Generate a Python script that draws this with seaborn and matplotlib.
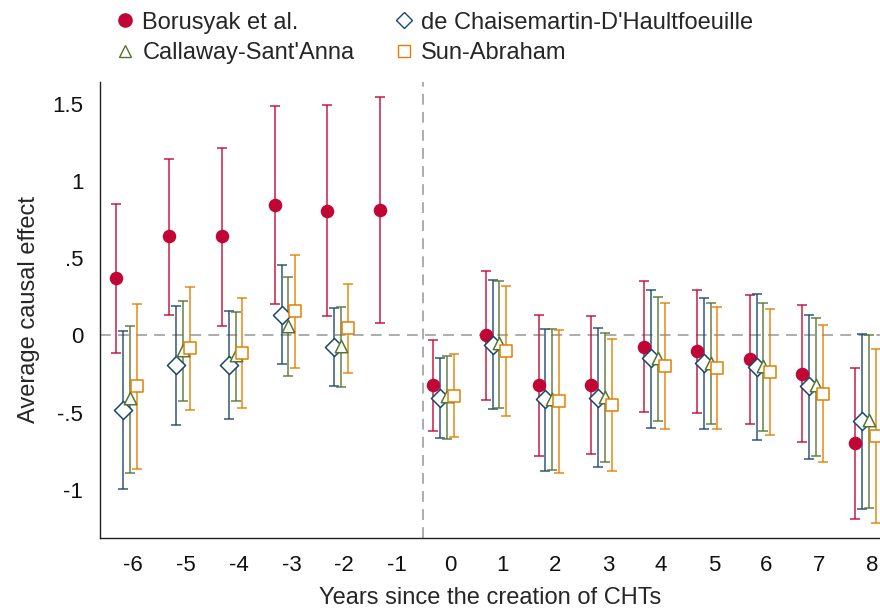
import matplotlib
matplotlib.use("Agg")
import matplotlib.pyplot as plt
from matplotlib.lines import Line2D
import numpy as np
import seaborn as sns

# event time (years relative to CHT creation)
periods = [-6, -5, -4, -3, -2, -1, 0, 1, 2, 3, 4, 5, 6, 7, 8]
nan = np.nan

bjs_est = [0.37, 0.64, 0.64, 0.845, 0.806, 0.813, -0.323, 0.0, -0.323, -0.323, -0.073, -0.103, -0.155, -0.247, -0.697]
bjs_lo = [-0.116, 0.129, 0.06, 0.204, 0.123, 0.082, -0.619, -0.42, -0.779, -0.768, -0.497, -0.501, -0.572, -0.692, -1.187]
bjs_hi = [0.853, 1.144, 1.215, 1.486, 1.49, 1.544, -0.03, 0.415, 0.135, 0.125, 0.355, 0.297, 0.26, 0.2, -0.208]

dcdh_est = [-0.484, -0.194, -0.194, 0.133, -0.073, nan, -0.402, -0.065, -0.413, -0.402, -0.146, -0.181, -0.202, -0.327, -0.555]
dcdh_lo = [-0.995, -0.58, -0.54, -0.185, -0.327, nan, -0.665, -0.477, -0.875, -0.85, -0.596, -0.606, -0.675, -0.8, -1.12]
dcdh_hi = [0.028, 0.19, 0.157, 0.456, 0.179, nan, -0.144, 0.361, 0.043, 0.045, 0.292, 0.241, 0.266, 0.131, 0.011]

cs_est = [-0.405, -0.095, -0.127, 0.06, -0.069, nan, -0.39, -0.05, -0.413, -0.398, -0.144, -0.18, -0.198, -0.323, -0.55]
cs_lo = [-0.89, -0.424, -0.424, -0.262, -0.335, nan, -0.673, -0.471, -0.87, -0.821, -0.555, -0.574, -0.617, -0.781, -1.114]
cs_hi = [0.06, 0.224, 0.15, 0.376, 0.187, nan, -0.133, 0.355, 0.04, 0.017, 0.25, 0.211, 0.211, 0.114, 0.005]

sa_est = [-0.33, -0.082, -0.114, 0.155, 0.045, nan, -0.39, -0.101, -0.426, -0.452, -0.198, -0.211, -0.237, -0.376, -0.652]
sa_lo = [-0.865, -0.48, -0.47, -0.211, -0.243, nan, -0.66, -0.52, -0.892, -0.875, -0.608, -0.606, -0.645, -0.821, -1.213]
sa_hi = [0.205, 0.314, 0.239, 0.518, 0.333, nan, -0.123, 0.323, 0.034, -0.026, 0.211, 0.185, 0.172, 0.065, -0.086]

ytick_vals = [-1, -0.5, 0, 0.5, 1, 1.5]
ytick_labels = ["-1", "-.5", "0", ".5", "1", "1.5"]

sns.set_style("white")
plt.rcParams["font.family"] = ["Liberation Sans", "DejaVu Sans"]

# name, est, lo, hi, offset, colour, marker, size, filled
series = [
    ("Borusyak et al.", bjs_est, bjs_lo, bjs_hi, -0.32, "#c10534", "o", 95, True),
    ("de Chaisemartin-D'Haultfoeuille", dcdh_est, dcdh_lo, dcdh_hi, -0.19, "#1a476f", "D", 85, False),
    ("Callaway-Sant'Anna", cs_est, cs_lo, cs_hi, -0.06, "#55752f", "^", 80, False),
    ("Sun-Abraham", sa_est, sa_lo, sa_hi, 0.07, "#e37e00", "s", 70, False),
]

fig = plt.figure(figsize=(8.8, 6.11), dpi=100)
ax = fig.add_axes([0.1136, 0.1195, 0.8864, 0.7465])

ax.axhline(0, color="#a6a6a6", lw=1.3, ls=(0, (6, 4)), zorder=0)
ax.axvline(-0.5, color="#a6a6a6", lw=1.3, ls=(0, (6, 4)), zorder=0)

x0 = np.array(periods, dtype=float)
handles = []
for name, est, lo, hi, off, col, mk, sz, filled in series:
    est = np.array(est)
    lo = np.array(lo)
    hi = np.array(hi)
    x = x0 + off
    ax.errorbar(x, est, yerr=[est - lo, hi - est], fmt="none", ecolor=col,
                elinewidth=1.1, capsize=3.5, capthick=1.1, zorder=2, alpha=0.9)
    face = col if filled else "white"
    sns.scatterplot(x=x, y=est, ax=ax, marker=mk, s=sz, facecolor=face,
                    edgecolor=col, linewidth=0 if filled else 1.1, zorder=3)
    handles.append(Line2D([], [], ls="none", marker=mk, markersize=9.5 if filled else 8,
                          markerfacecolor=face, markeredgecolor=col,
                          markeredgewidth=1.0, label=name))

ax.set_xlim(-6.63, 8.15)
ax.set_ylim(-1.31, 1.64)
ax.set_xticks(periods)
ax.set_xticklabels([str(p) for p in periods])
ax.set_yticks(ytick_vals)
ax.set_yticklabels(ytick_labels)
ax.tick_params(axis="both", length=0, labelsize=16, colors="#111111")
ax.tick_params(axis="x", pad=12)
ax.tick_params(axis="y", pad=12)

ax.set_xlabel("Years since the creation of CHTs", fontsize=17, labelpad=8)
ax.set_ylabel("Average causal effect", fontsize=17, labelpad=9)

for side in ["top", "right"]:
    ax.spines[side].set_visible(False)
for side in ["left", "bottom"]:
    ax.spines[side].set_color("#222222")
    ax.spines[side].set_linewidth(1.0)

order = [handles[0], handles[2], handles[1], handles[3]]
fig.legend(handles=order, labels=[h.get_label() for h in order], ncol=2,
           loc="upper left", bbox_to_anchor=(0.111, 1.006), frameon=False,
           fontsize=17, handlelength=1.0, handletextpad=0.24,
           columnspacing=1.58, labelspacing=0.36, borderaxespad=0.25)

fig.savefig("out.png", dpi=100)
